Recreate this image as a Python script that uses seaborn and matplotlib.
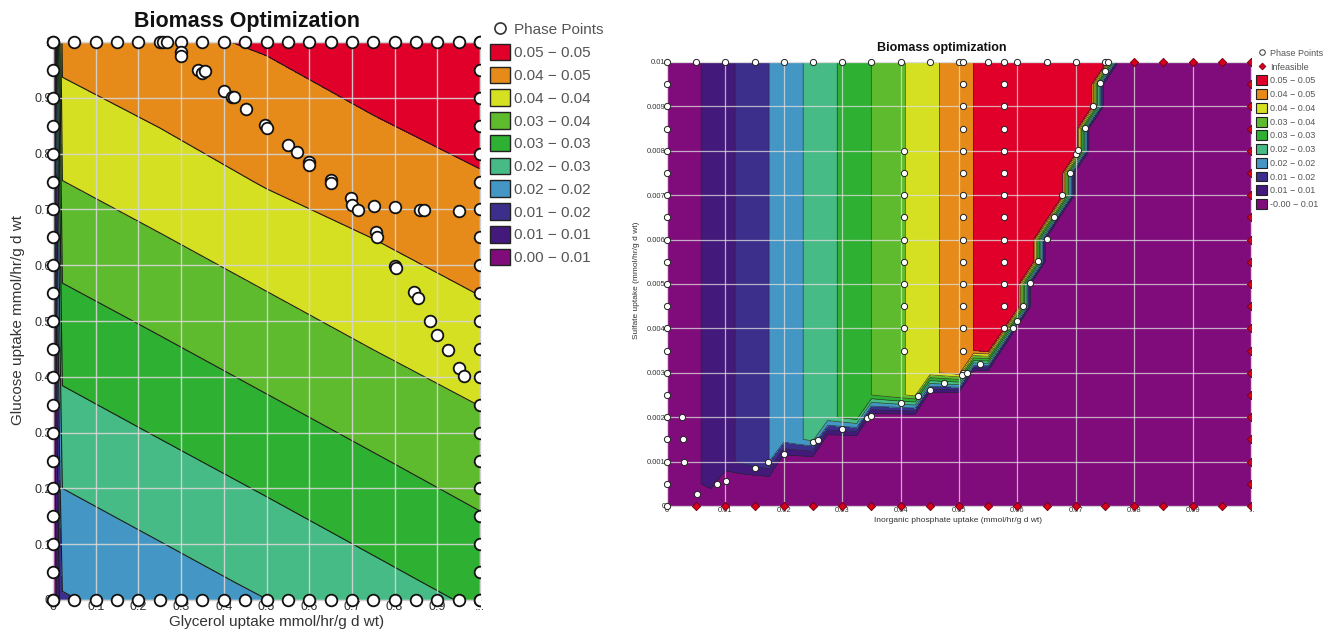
import numpy as np
import pandas as pd
import matplotlib
matplotlib.use("Agg")
import matplotlib.pyplot as plt
import seaborn as sns
from matplotlib.patches import Patch
from matplotlib.lines import Line2D
from matplotlib.transforms import Bbox, TransformedBbox

# ---------------- data ----------------
band_colors = ["#800c7c", "#44197c", "#3b2f8b", "#4497c4", "#46bb86",
               "#2eb133", "#5fbb2e", "#d4e021", "#e68a19", "#e0002a"]

# Left panel: biomass surface over glycerol (x) / glucose (y)
glycerol_nodes = [0.0, 0.022, 0.25, 0.5, 0.75, 1.0]
glucose_nodes = [0.0, 0.03, 0.25, 0.5, 0.75, 1.0]
biomass_left = [
    [0.0, 0.01530, 0.01801, 0.02095, 0.02399, 0.02696],
    [0.0, 0.01617, 0.01885, 0.02184, 0.02483, 0.02783],
    [0.0, 0.02242, 0.02515, 0.02809, 0.03108, 0.03407],
    [0.0, 0.02956, 0.03224, 0.03523, 0.03822, 0.04095],
    [0.0, 0.03670, 0.03938, 0.04237, 0.04463, 0.04673],
    [0.0, 0.04379, 0.04620, 0.04778, 0.05014, 0.05250],
]
left_edge_vals = [0.0, 0.05, 0.1, 0.15, 0.2, 0.25, 0.3, 0.35, 0.4, 0.45, 0.5,
                  0.55, 0.6, 0.65, 0.7, 0.75, 0.8, 0.85, 0.9, 0.95, 1.0]
left_top_extra_x = [0.258, 0.266]
left_inner_x = [0.30, 0.30, 0.34, 0.35, 0.355, 0.40, 0.42, 0.425, 0.452, 0.497,
                0.50, 0.55, 0.571, 0.60, 0.60, 0.651, 0.651, 0.698, 0.70, 0.714,
                0.752, 0.80, 0.86, 0.869, 0.951, 0.756, 0.759, 0.80, 0.803, 0.845,
                0.855, 0.883, 0.90, 0.925, 0.951, 0.963]
left_inner_y = [0.982, 0.975, 0.950, 0.944, 0.948, 0.912, 0.901, 0.901, 0.880, 0.851,
                0.846, 0.815, 0.803, 0.785, 0.780, 0.753, 0.747, 0.720, 0.708, 0.699,
                0.706, 0.704, 0.699, 0.699, 0.697, 0.660, 0.650, 0.599, 0.595, 0.552,
                0.541, 0.500, 0.475, 0.448, 0.416, 0.401]

# Right panel: biomass over phosphate (x) / sulfate (y)
phos_ramp = [0.0, 0.0583, 0.1]
bio_ramp = [0.0, 0.0525, 0.0525]
bound_phos = [0.0, 0.0051, 0.0086, 0.0101, 0.0151, 0.0173, 0.0201, 0.0250, 0.0259,
              0.0300, 0.0343, 0.0350, 0.0400, 0.0429, 0.0450, 0.0475, 0.0505, 0.0530,
              0.0560, 0.0593, 0.0609, 0.0622, 0.0636, 0.0650, 0.0662, 0.0676, 0.0690,
              0.0703, 0.0716, 0.0729, 0.0742, 0.0755, 0.1]
bound_sulf = [0.0, 0.00027, 0.00049, 0.00057, 0.00086, 0.00098, 0.00116, 0.00144, 0.00148,
              0.00174, 0.00198, 0.00203, 0.00233, 0.00248, 0.00261, 0.00278, 0.00295, 0.00310,
              0.00335, 0.00402, 0.00450, 0.00502, 0.00551, 0.00602, 0.00651, 0.00701, 0.00751,
              0.00802, 0.00852, 0.00902, 0.00952, 0.0100, 0.0200]
infeasible_bio = -0.000001

r_top_x = [0.0, 0.005, 0.01, 0.015, 0.02, 0.025, 0.03, 0.035, 0.04, 0.045, 0.05,
           0.0507, 0.055, 0.0577, 0.06, 0.065, 0.07, 0.075, 0.0755]
r_left_y = [0.0, 0.0005, 0.001, 0.0015, 0.002, 0.0025, 0.003, 0.0035, 0.004, 0.0045,
            0.005, 0.0055, 0.006, 0.0065, 0.007, 0.0075, 0.008, 0.0085, 0.009, 0.0095]
r_near_x = [0.0025, 0.0027, 0.0029]
r_near_y = [0.002, 0.0015, 0.001]
r_col_a_y = [0.008, 0.0075, 0.007, 0.0065, 0.006, 0.0055, 0.005, 0.0045, 0.004, 0.0035]
r_col_b_y = [0.0095, 0.009, 0.0085, 0.008, 0.0075, 0.007, 0.0065, 0.006, 0.0055, 0.005,
             0.0045, 0.004, 0.0035, 0.003]
r_col_c_y = [0.0095, 0.009, 0.0085, 0.008, 0.0075, 0.007, 0.0065, 0.006, 0.0055, 0.005,
             0.0045, 0.004]
r_bnd_x = [0.00508, 0.00861, 0.0101, 0.01506, 0.01734, 0.02007, 0.02503, 0.02589, 0.0300,
           0.0343, 0.0350, 0.0400, 0.0429, 0.0450, 0.0475, 0.0505, 0.0514, 0.0536,
           0.0593, 0.0599, 0.0609, 0.0622, 0.0636, 0.0650, 0.0662, 0.0676, 0.0690, 0.0700,
           0.0703, 0.0716, 0.0729, 0.0742, 0.0750]
r_bnd_y = [0.00027, 0.00049, 0.00057, 0.00086, 0.00098, 0.00116, 0.00144, 0.00148, 0.00174,
           0.00198, 0.00203, 0.00233, 0.00248, 0.00261, 0.00278, 0.00295, 0.00300, 0.00320,
           0.00402, 0.00417, 0.00450, 0.00502, 0.00551, 0.00602, 0.00651, 0.00701, 0.00751,
           0.00793, 0.00802, 0.00852, 0.00902, 0.00952, 0.00980]
r_inf_vals_x = [0.005, 0.01, 0.015, 0.02, 0.025, 0.03, 0.035, 0.04, 0.045, 0.05,
                0.055, 0.06, 0.065, 0.07, 0.075, 0.08, 0.085, 0.09, 0.095, 0.1]
r_inf_top_x = [0.08, 0.085, 0.09, 0.095, 0.1]

left_xticks = [0, 0.1, 0.2, 0.3, 0.4, 0.5, 0.6, 0.7, 0.8, 0.9, 1.0]
left_xlabels = ["0", "0.1", "0.2", "0.3", "0.4", "0.5", "0.6", "0.7", "0.8", "0.9", "..."]
left_yticks = [0, 0.1, 0.2, 0.3, 0.4, 0.5, 0.6, 0.7, 0.8, 0.9, 1.0]
left_ylabels = ["0", "0.1", "0.2", "0.3", "0.4", "0.5", "0.6", "0.7", "0.8", "0.9", "1"]
right_xticks = [0, 0.01, 0.02, 0.03, 0.04, 0.05, 0.06, 0.07, 0.08, 0.09, 0.1]
right_xlabels = ["0", "0.01", "0.02", "0.03", "0.04", "0.05", "0.06", "0.07", "0.08", "0.09", "..."]
right_yticks = [0, 0.001, 0.002, 0.003, 0.004, 0.005, 0.006, 0.007, 0.008, 0.009, 0.01]
right_ylabels = ["0", "0.001", "0.002", "0.003", "0.004", "0.005", "0.006", "0.007",
                 "0.008", "0.009", "0.01"]

# ---------------- figure ----------------
sns.set_theme(style="white")
plt.rcParams['font.family'] = ['Liberation Sans', 'DejaVu Sans']

W, H = 1330, 632
fig = plt.figure(figsize=(W / 100, H / 100), dpi=100)


def fig_rect(x0, y0, x1, y1):
    return [x0 / W, 1 - y1 / H, (x1 - x0) / W, (y1 - y0) / H]


axL = fig.add_axes(fig_rect(53, 42, 480, 600))
axR = fig.add_axes(fig_rect(667, 62, 1251, 506))


def right_clip(ax, coll):
    x1 = ax.get_position().x1
    coll.set_clip_path(None)
    coll.set_clip_on(True)
    coll.set_clip_box(TransformedBbox(Bbox([[0, 0], [x1, 1]]), fig.transFigure))


def range_labels(levels):
    return [f"{levels[i]:.2f} \u2212 {levels[i + 1]:.2f}" for i in range(len(levels) - 1)]


# ---- left panel ----
ZL = np.array(biomass_left)
levL = np.linspace(ZL.min(), ZL.max(), 11)
axL.contourf(glycerol_nodes, glucose_nodes, ZL, levels=levL, colors=band_colors, zorder=1)
axL.contour(glycerol_nodes, glucose_nodes, ZL, levels=levL[1:-1], colors="#1a1a1a",
            linewidths=0.8, zorder=2)

lx = (left_edge_vals + left_edge_vals + [0.0] * 21 + [1.0] * 21 + left_top_extra_x + left_inner_x)
ly = ([1.0] * 21 + [0.0] * 21 + left_edge_vals + left_edge_vals + [1.0] * len(left_top_extra_x)
      + left_inner_y)
dfL = pd.DataFrame({"glycerol": lx, "glucose": ly})
sns.scatterplot(data=dfL, x="glycerol", y="glucose", ax=axL, s=70, color="white",
                edgecolor="#111111", linewidth=1.3, zorder=4, legend=False)
right_clip(axL, axL.collections[-1])

axL.set_xlim(0, 1)
axL.set_ylim(0, 1)
axL.set_axisbelow(False)
axL.grid(True, color="#d6d6d6", lw=1.0, alpha=0.9, zorder=3)
axL.set_xticks(left_xticks)
axL.set_xticklabels(left_xlabels)
axL.set_yticks(left_yticks)
axL.set_yticklabels(left_ylabels)
axL.tick_params(length=0, labelsize=9, colors="#333333", pad=1)
axL.set_xlabel("")
axL.set_ylabel("")
for sp in axL.spines.values():
    sp.set_color("#d0d0d0")
    sp.set_linewidth(1.0)

fig.text(247 / W, 1 - 21 / H, "Biomass Optimization", ha="center", va="center",
         fontsize=15.5, fontweight="bold", color="#111111")
fig.text(277 / W, 1 - 622 / H, "Glycerol uptake mmol/hr/g d wt)", ha="center", va="center",
         fontsize=11, color="#333333")
fig.text(18 / W, 1 - 320 / H, "Glucose uptake mmol/hr/g d wt", ha="center", va="center",
         rotation=90, fontsize=11, color="#333333")

handlesL = [Line2D([], [], marker="o", ls="", mfc="white", mec="#333333", mew=1.2, ms=8)]
handlesL += [Patch(fc=c, ec="#222222", lw=1.0) for c in band_colors[::-1]]
labelsL = ["Phase Points"] + range_labels(levL)[::-1]
fig.legend(handlesL, labelsL, loc="upper left", bbox_to_anchor=(490 / W, 1 - 21 / H),
           frameon=False, fontsize=11, handlelength=1.3, handleheight=1.3,
           labelspacing=0.4, handletextpad=0.3, borderaxespad=0, borderpad=0,
           labelcolor="#555555")

# ---- right panel ----
phos_grid = np.linspace(0, 0.1, 41)
sulf_grid = np.linspace(0, 0.01, 21)
P, S = np.meshgrid(phos_grid, sulf_grid)
ZR = np.interp(P, phos_ramp, bio_ramp)
limit = np.interp(P, bound_phos, bound_sulf)
ZR = np.where(S >= limit - 1e-9, ZR, infeasible_bio)
levR = np.linspace(ZR.min(), ZR.max(), 11)
axR.contourf(P, S, ZR, levels=levR, colors=band_colors, zorder=1)
axR.contour(P, S, ZR, levels=levR[1:-1], colors="#222222", linewidths=0.5, alpha=0.8, zorder=2)

rx = (r_top_x + [0.0] * len(r_left_y) + r_near_x + [0.0405] * len(r_col_a_y)
      + [0.0507] * len(r_col_b_y) + [0.0577] * len(r_col_c_y) + r_bnd_x)
ry = ([0.01] * len(r_top_x) + r_left_y + r_near_y + r_col_a_y + r_col_b_y + r_col_c_y + r_bnd_y)
dfR = pd.DataFrame({"phosphate": rx, "sulfate": ry})
ix = r_inf_vals_x + r_inf_top_x + [0.1] * 19
iy = [0.0] * len(r_inf_vals_x) + [0.01] * len(r_inf_top_x) + r_left_y[1:]
dfI = pd.DataFrame({"phosphate": ix, "sulfate": iy})

sns.scatterplot(data=dfI, x="phosphate", y="sulfate", ax=axR, marker="D", s=18,
                color="#d8001c", edgecolor="#6a0010", linewidth=0.6, zorder=4, legend=False)
right_clip(axR, axR.collections[-1])
sns.scatterplot(data=dfR, x="phosphate", y="sulfate", ax=axR, s=20, color="white",
                edgecolor="#222222", linewidth=0.7, zorder=5, legend=False)
right_clip(axR, axR.collections[-1])

axR.set_xlim(0, 0.1)
axR.set_ylim(0, 0.01)
axR.set_axisbelow(False)
axR.grid(True, color="#e0e0e0", lw=0.9, alpha=0.75, zorder=3)
axR.set_xticks(right_xticks)
axR.set_xticklabels(right_xlabels)
axR.set_yticks(right_yticks)
axR.set_yticklabels(right_ylabels)
axR.tick_params(length=0, labelsize=5.5, colors="#333333", pad=1)
axR.set_xlabel("")
axR.set_ylabel("")
for sp in axR.spines.values():
    sp.set_color("#d0d0d0")
    sp.set_linewidth(0.8)

fig.text(942 / W, 1 - 48 / H, "Biomass optimization", ha="center", va="center",
         fontsize=9, fontweight="bold", color="#111111")
fig.text(958 / W, 1 - 521 / H, "Inorganic phosphate uptake (mmol/hr/g d wt)", ha="center",
         va="center", fontsize=6, color="#333333")
fig.text(637 / W, 1 - 280 / H, "Sulfate uptake (mmol/hr/g d wt)", ha="center", va="center",
         rotation=90, fontsize=6, color="#333333")

handlesR = [Line2D([], [], marker="o", ls="", mfc="white", mec="#333333", mew=0.7, ms=4),
            Line2D([], [], marker="D", ls="", mfc="#d8001c", mec="#6a0010", mew=0.5, ms=3.5)]
handlesR += [Patch(fc=c, ec="#222222", lw=0.8) for c in band_colors[::-1]]
labelsR = ["Phase Points", "Infeasible"] + range_labels(levR)[::-1]
fig.legend(handlesR, labelsR, loc="upper left", bbox_to_anchor=(1256 / W, 1 - 48 / H),
           frameon=False, fontsize=6.5, handlelength=1.25, handleheight=1.3,
           labelspacing=0.42, handletextpad=0.3, borderaxespad=0, borderpad=0,
           labelcolor="#555555")

fig.savefig("out.png", dpi=100)
